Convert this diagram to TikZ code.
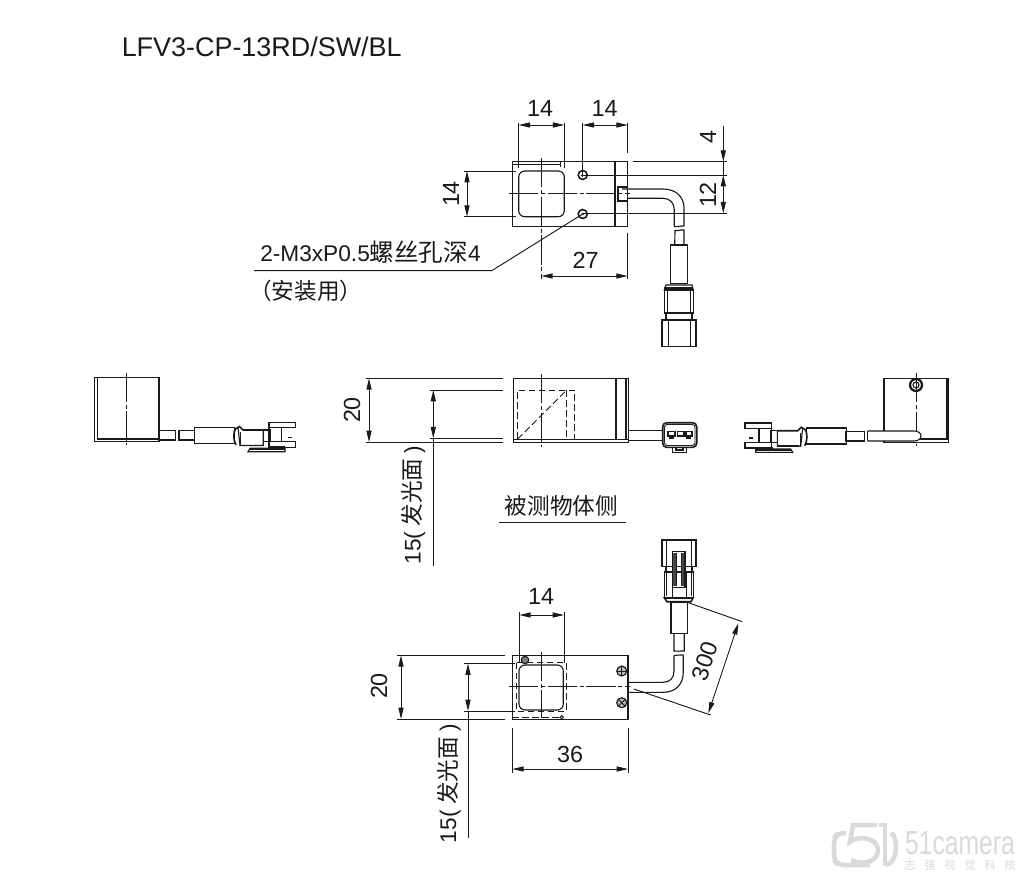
\documentclass[tikz,border=0pt]{standalone}
\usepackage{fontspec}
\setmainfont{Liberation Sans}
\newfontfamily\cjk{Noto Sans CJK SC}
\usetikzlibrary{arrows.meta}
\definecolor{ink}{HTML}{1A1A1A}
\definecolor{wm}{HTML}{DADADA}
\tikzset{
 x=0.75pt,y=-0.75pt,
 ol/.style={draw=ink,line width=0.85pt},
 thn/.style={draw=ink,line width=0.7pt},
 thk/.style={draw=ink,line width=1.2pt},
 cl/.style={draw=ink,line width=0.7pt,dash pattern=on 22pt off 2pt on 3pt off 2pt},
 hid/.style={draw=ink,line width=0.75pt,dash pattern=on 5pt off 2.5pt},
 dimarr/.style={thn,{Triangle[length=8.5pt,width=3.8pt]}-{Triangle[length=8.5pt,width=3.8pt]}},
 endarr/.style={thn,-{Triangle[length=8.5pt,width=3.8pt]}},
 lbl/.style={font=\fontsize{17.5pt}{20pt}\selectfont,inner sep=0pt,text=ink},
 cn/.style={font=\fontsize{17pt}{20pt}\selectfont,inner sep=0pt,text=ink},
}
\newcommand{\sideconn}{%
 \draw[ol] (194.3,427.3) rectangle (234.3,443.3);
 \draw[thk] (236,428) .. controls (233,432) and (233,440) .. (236,445) (234.5,429.5) -- (239.5,426.5) -- (243,430) -- (263.3,430);
 \draw[ol] (238,427) -- (240,445.5) -- (263.3,445.5) -- (263.3,430);
 \draw[thn] (240,432) -- (240,445) (242,445) -- (263,445);
 \draw[ol] (263.3,430) rectangle (270,441.7);
 \draw[ol] (269,422.3) rectangle (295.7,427.7);
 \draw[ol] (269,441.7) rectangle (295.7,447.3);
 \draw[ol] (269,427.7) rectangle (281.7,441.7);
 \draw[thk] (288,437.5) -- (292,437.5);
 \draw[ol] (248,451.7) -- (250,448.3) -- (285,448.3) -- (285,451.7) -- cycle;
 \draw[thk] (250,449) -- (285,449) (268,447) -- (285,447);
}
\begin{document}
\begin{tikzpicture}
\useasboundingbox (0,0) rectangle (1023,883);
\fill[white] (0,0) rectangle (1023,883);
\node[anchor=west,inner sep=0pt,font=\fontsize{20.2pt}{24pt}\selectfont,text=ink] (title) at (121.5,46.5) {LFV3-CP-13RD/SW/BL};

% ---- top view ----
\draw[ol] (512.7,161.7) rectangle (627.7,226.7);
\draw[thk] (614.7,161.7) -- (614.7,226.7);
\draw[thn] (512.7,164) -- (560.7,164);
\draw[thn] (560.5,161.7) -- (560.5,167);
\draw[ol,rounded corners=4.5pt] (518.7,171) rectangle (564.3,216.7);
\draw[thk] (582.7,175) circle (4.5);
\draw[thk] (582.7,214) circle (4.5);
\draw[thn] (582.7,173) -- (582.7,177) (580.7,175) -- (584.7,175);
\fill[ink] (582.7,214) circle (1.3);
\draw[cl] (541.3,158) -- (541.3,278);
\draw[cl] (509,193.7) -- (630,193.7);
\draw[thn] (518.7,123) -- (518.7,168) (564.3,123) -- (564.3,168);
\draw[dimarr] (518.7,125) -- (564.3,125);
\node[lbl] (t14a) at (540,108) {14};
\draw[thn] (582.7,123) -- (582.7,175) (627.7,123) -- (627.7,153) (627.7,233) -- (627.7,279);
\draw[dimarr] (582.7,125) -- (627.7,125);
\node[lbl] (t14b) at (604.5,108) {14};
\draw[thn] (541.3,278) -- (541.3,279);
\draw[dimarr] (541.3,276) -- (627.7,276);
\node[lbl] (t27) at (585.5,260) {27};
\draw[thn] (632.7,161.7) -- (726.7,161.7) (582.7,175) -- (726.7,175) (582.7,213.3) -- (726.7,213.3);
\draw[endarr] (723.3,126) -- (723.3,161.7);
\draw[dimarr] (723.3,175) -- (723.3,213.3);
\draw[thn] (723.3,161.7) -- (723.3,175);
\node[lbl,rotate=90] (t4) at (708,137) {4};
\node[lbl,rotate=90] (t12) at (708,195) {12};
\draw[thn] (464,171) -- (516,171) (464,216.7) -- (516,216.7);
\draw[dimarr] (467,171) -- (467,216.7);
\node[lbl,rotate=90] (t14c) at (451,194) {14};
% leader
\draw[thn] (582.7,214) -- (491.7,270.7) -- (254,270.7);
\node[anchor=west,inner sep=0pt,font=\fontsize{17pt}{20pt}\selectfont,text=ink] (hole) at (260,252.5) {2-M3xP0.5{\cjk\fontsize{18.4pt}{20pt}\selectfont 螺丝孔深}4};
\node[anchor=west,cn] (use) at (249,291) {\cjk （安装用）};
% cable
\draw[thk] (618,186.7) rectangle (627.3,200.7);
\draw[ol] (622,189) -- (663,189) .. controls (676,189) and (684,197) .. (684,208) -- (684,226);
\draw[ol] (627,198.3) -- (663,198.3) .. controls (670,198.3) and (674.3,203) .. (674.3,210) -- (674.3,226.7);
\draw[ol] (674.3,226.7) .. controls (678,227.5) and (680,225.5) .. (684,226);
\draw[ol] (674.7,245) -- (675,230.5) .. controls (678,231.5) and (680,229.5) .. (684,230) -- (684,245);
\draw[ol] (670.7,245) rectangle (687.3,283.3);
\draw[thk] (670.7,283.3) -- (687.3,283.3);
\draw[ol] (664.3,290) -- (666,285) -- (692,285) -- (693.3,290) -- cycle;
\draw[thk] (664.3,288) -- (693.3,288);
\draw[ol] (664.3,290) rectangle (693.3,313);
\draw[thn] (667,290) -- (667,313) (690,290) -- (690,313);
\draw[ol] (666,313) rectangle (692,320);
\draw[ol] (662,320) rectangle (696,346.7);
\draw[thn] (668.5,320) -- (668.5,346.7) (690,320) -- (690,346.7);

% ---- left view ----
\draw[ol] (94.7,377.3) rectangle (159,441.7);
\draw[ol] (97.3,377.3) -- (97.3,439) -- (159,439);
\draw[cl] (126.7,372.7) -- (126.7,445);
\draw[ol] (159,430.7) -- (175.7,430.7) (159,440) -- (175.7,440);
\draw[ol] (175.7,430.7) -- (175.7,440);
\draw[ol] (179,430.7) rectangle (194.3,440);
\sideconn

% ---- centre view ----
\draw[ol] (513.3,378.3) rectangle (628.3,442.3);
\draw[thk] (513.3,439.5) -- (628.3,439.5) -- (628.3,442.3) -- (513.3,442.3) -- cycle;
\draw[thk] (615.7,378.3) -- (615.7,439);
\draw[ol] (626,378.3) -- (626,439);
\draw[hid] (517.7,439) -- (517.7,390) -- (574.3,390) -- (574.3,439);
\draw[hid] (566.7,390) -- (566.7,439);
\draw[hid] (517.7,439) -- (566.7,390);
\draw[cl] (541.3,374) -- (541.3,446.7);
\draw[thn] (365.7,378.3) -- (503.3,378.3) (365.7,442) -- (503.3,442);
\draw[dimarr] (369,378.3) -- (369,442);
\node[lbl,rotate=90] (t20a) at (352,410) {20};
\draw[thn] (430,390) -- (503.3,390) (430,438.3) -- (503.3,438.3);
\draw[dimarr] (433.3,390) -- (433.3,438.3);
\draw[thn] (433.3,438.3) -- (433.3,566);
\node[cn,rotate=90] (t15a) at (413.5,505) {15(\hspace{4pt}{\cjk 发光面}\hspace{4pt})};
\draw[ol] (628.3,430.7) -- (663,430.7) (628.3,440.7) -- (663,440.7);
\draw[thk,rounded corners=3pt] (662.7,422.7) rectangle (696.7,447.3);
\draw[thn,rounded corners=2pt] (664.5,424.5) rectangle (695,445.5);
\draw[ol] (668,431.7) rectangle (675,436) (677.5,431.7) rectangle (684,436) (686,431.7) rectangle (692,436);
\draw[thk] (669,438) -- (674,438) (686,438) -- (691,438);
\draw[ol] (672.5,447.3) rectangle (686.5,452.7);
\draw[ol] (676,447.3) -- (676,450) -- (683,450) -- (683,447.3);
\node[cn] (side) at (561.5,505.5) {\cjk 被测物体侧};
\draw[thn] (499,522) -- (625.7,522);

% ---- right view ----
\draw[ol] (884,378.3) rectangle (948.3,442.3);
\draw[ol] (884,439) -- (947,439) -- (947,378.3);
\draw[cl] (916,373) -- (916,446);
\draw[line width=1.7pt,draw=ink] (916,385) circle (6);
\draw[ol] (916,385) circle (3);
\draw[ol,fill=white] (867.3,431) -- (914,431) .. controls (918,431) and (921,433) .. (921,436) .. controls (921,439) and (918,441) .. (914,441) -- (867.3,441);
\draw[thk] (867.3,431) -- (867.3,441);
\draw[ol] (846,431.7) rectangle (864.3,441);
\begin{scope}[shift={(1040.7,0.7)},xscale=-1]
 \sideconn
\end{scope}

% ---- bottom view ----
\draw[ol] (512.3,655.3) rectangle (628,719.3);
\draw[ol,rounded corners=4.5pt] (519,665) rectangle (563.3,710);
\draw[hid] (516.7,662.7) rectangle (566,711.7);
\draw[hid] (512.3,717) -- (560,717);
\draw[cl] (541.7,651.7) -- (541.7,718);
\draw[cl] (509,686.7) -- (630,686.7);
\draw[ol,fill=ink!55] (525,660) circle (3.7);
\draw[ol,fill=ink!30] (621.7,671) circle (5);
\draw[ol,fill=ink!30] (621.7,702.7) circle (5);
\draw[thn] (616.7,671) -- (626.7,671) (621.7,666) -- (621.7,676);
\draw[thn] (618,699) -- (625.4,706.4) (618,706.4) -- (625.4,699);
\draw[thn] (561.7,717.3) circle (1.7);
\draw[thn] (519.3,611.7) -- (519.3,663) (564,611.7) -- (564,663);
\draw[dimarr] (519.3,615) -- (564,615);
\node[lbl] (t14d) at (541,596) {14};
\draw[thn] (397,655.3) -- (505,655.3) (397,719) -- (505,719);
\draw[dimarr] (401,655.3) -- (401,719);
\node[lbl,rotate=90] (t20b) at (379,686) {20};
\draw[thn] (464,663.5) -- (515,663.5) (464,711) -- (515,711);
\draw[dimarr] (468,663.5) -- (468,711);
\draw[thn] (468,711) -- (468,838);
\node[cn,rotate=90] (t15b) at (449,783.5) {15(\hspace{4pt}{\cjk 发光面}\hspace{4pt})};
\draw[thn] (512.3,728) -- (512.3,773) (628,728) -- (628,773);
\draw[dimarr] (512.3,769) -- (628,769);
\node[lbl] (t36) at (570,754) {36};
% cable
\draw[ol] (628,682.3) -- (663,682.3) .. controls (670,682.3) and (674,678) .. (674,671) -- (674,655.5);
\draw[ol] (628,692.3) -- (663,692.3) .. controls (676,692.3) and (683.3,684) .. (683.3,672) -- (683.3,655);
\draw[ol] (674,655.5) .. controls (677,654) and (680,656) .. (683.3,655);
\draw[ol] (674,633.3) -- (674,651) .. controls (677,652) and (680,650.5) .. (684.3,651) -- (684.3,633.3);
\draw[ol] (671,602.7) rectangle (687.7,633.3);
\draw[thk] (664.5,598) -- (693,598) -- (691,601.7) -- (667,601.7) -- cycle;
\draw[ol] (664.3,598) -- (664.3,572) -- (693.3,572) -- (693.3,598);
\draw[thn] (672,572) -- (672,598) (686,572) -- (686,598) (666.5,572) -- (666.5,596) (691,572) -- (691,596);
\draw[ol] (666,566.7) rectangle (692,572);
\draw[ol] (662,540) rectangle (696,566.7);
\draw[thn] (666.5,540) -- (666.5,566.7) (691.5,540) -- (691.5,566.7);
\draw[ol] (672.7,551.7) rectangle (685,587.3);
\draw[line width=1.6pt,draw=ink!80] (674.5,553) -- (674.5,586) (683.2,553) -- (683.2,586);
\draw[thn] (676.5,553) -- (676.5,586) (681,553) -- (681,586);
% 300 dim
\draw[thn] (688.3,602.7) -- (742.3,621.7) (634,689) -- (710.7,715);
\draw[dimarr] (738.3,623.3) -- (708.3,713.3);
\node[lbl,rotate=71.6] (t300) at (705,661) {300};

% ---- watermark ----
\draw[wm,line width=3.4pt,rounded corners=5pt] (846,833) -- (838,833) -- (834,838) -- (834,860) -- (838,865) -- (870,865);
\draw[wm,line width=3.4pt] (877,825) -- (853,825) -- (850,842) .. controls (856,836) and (876,836) .. (878,849) .. controls (879,861) and (864,866) .. (851,860);
\draw[wm,line width=3.4pt] (879,825) -- (885,825) -- (885,866);
\draw[wm,line width=3.4pt] (891,833) .. controls (898,836) and (899,862) .. (886,865);
\node[inner sep=0pt,text=wm,xscale=0.74,font=\fontsize{25pt}{28pt}\selectfont] (wa) at (960,843) {51camera};
\node[inner sep=0pt,text=wm,font=\fontsize{8.5pt}{10pt}\selectfont] (wb) at (960,865) {\cjk 志\hspace{6.5pt}强\hspace{6.5pt}视\hspace{6.5pt}觉\hspace{6.5pt}科\hspace{6.5pt}技};
\end{tikzpicture}
\end{document}
